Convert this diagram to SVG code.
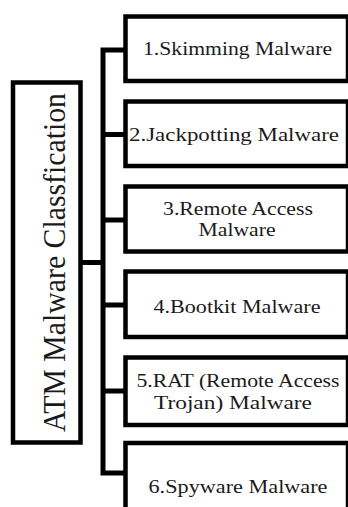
<svg xmlns="http://www.w3.org/2000/svg" width="348" height="507" viewBox="0 0 348 507">
<style>
.box{fill:#fff;stroke:#000;stroke-width:4.5}
.con{fill:none;stroke:#000;stroke-width:5;stroke-linecap:square}
.t{font-family:"Liberation Serif","DejaVu Serif",serif;font-size:18.5px;fill:#1a1a1a;text-anchor:middle}
.big{font-family:"Liberation Serif","DejaVu Serif",serif;font-size:31px;fill:#1a1a1a;text-anchor:middle}
</style>
<rect width="348" height="507" fill="#fff"/>
<g id="connectors">
<path class="con" d="M80.5 262.5H103M103 50V473M103 50H125.5M103 134.5H125.5M103 220H125.5M103 305H125.5M103 391H125.5M103 473H125.5"/>
</g>
<g id="root">
<rect class="box" x="13" y="82.5" width="67.5" height="360"/>
<text class="big" transform="translate(65 262.5) rotate(-90)" textLength="339" lengthAdjust="spacingAndGlyphs">ATM Malware Classfication</text>
</g>
<g id="n1">
<rect class="box" x="125.5" y="16.5" width="222.5" height="64.5"/>
<text class="t" x="237.5" y="55" textLength="189" lengthAdjust="spacingAndGlyphs">1.Skimming Malware</text>
</g>
<g id="n2">
<rect class="box" x="125.5" y="101.5" width="222.5" height="64.5"/>
<text class="t" x="234" y="140.5" textLength="210" lengthAdjust="spacingAndGlyphs">2.Jackpotting Malware</text>
</g>
<g id="n3">
<rect class="box" x="125.5" y="186.5" width="222.5" height="65"/>
<text class="t" x="238" y="215" textLength="150" lengthAdjust="spacingAndGlyphs">3.Remote Access</text>
<text class="t" x="237" y="236" textLength="77" lengthAdjust="spacingAndGlyphs">Malware</text>
</g>
<g id="n4">
<rect class="box" x="125.5" y="271.5" width="222.5" height="65.5"/>
<text class="t" x="237" y="313" textLength="167" lengthAdjust="spacingAndGlyphs">4.Bootkit Malware</text>
</g>
<g id="n5">
<rect class="box" x="125.5" y="357.5" width="222.5" height="67.5"/>
<text class="t" x="238" y="387" textLength="203" lengthAdjust="spacingAndGlyphs">5.RAT (Remote Access</text>
<text class="t" x="233" y="408.5" textLength="158" lengthAdjust="spacingAndGlyphs">Trojan) Malware</text>
</g>
<g id="n6">
<rect class="box" x="125.5" y="443" width="222.5" height="70"/>
<text class="t" x="238" y="492.5" textLength="179" lengthAdjust="spacingAndGlyphs">6.Spyware Malware</text>
</g>
</svg>
